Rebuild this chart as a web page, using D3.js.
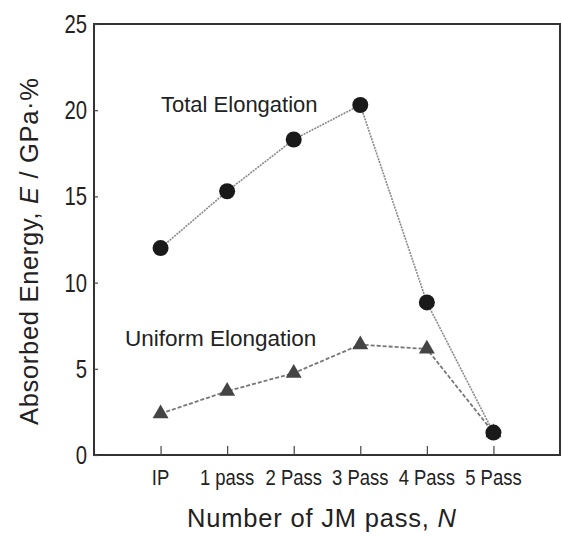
<!DOCTYPE html>
<html>
<head>
<meta charset="utf-8">
<script src="https://cdn.jsdelivr.net/npm/d3@7"></script>
<style>
  body { margin: 0; background: #fff; }
  text { font-family: "Liberation Sans", Arial, sans-serif; fill: #222; }
</style>
</head>
<body>
<div id="chart"></div>
<script>
// data
const passes = ["IP", "1 pass", "2 Pass", "3 Pass", "4 Pass", "5 Pass"]
const totalElong = [12.0, 15.3, 18.3, 20.3, 8.85, 1.3]
const uniformElong = [2.4, 3.7, 4.75, 6.4, 6.15, 1.3]
const yTicks = [0, 5, 10, 15, 20, 25]

const width = 562
const height = 536
const margin = {top: 24, right: 2, bottom: 81, left: 94}

const svg = d3.select("#chart")
  .append("svg")
    .attr("width", width)
    .attr("height", height)

const x = d3.scalePoint()
  .domain(passes)
  .range([margin.left, width - margin.right])
  .padding(1)

const y = d3.scaleLinear()
  .domain([0, 25])
  .range([height - margin.bottom, margin.top])

// frame
svg.append("rect")
  .attr("x", margin.left)
  .attr("y", margin.top)
  .attr("width", width - margin.right - margin.left)
  .attr("height", height - margin.bottom - margin.top)
  .attr("fill", "none")
  .attr("stroke", "#333")
  .attr("stroke-width", 2)

// x axis, ticks pointing inward
const xAxis = svg.append("g")
  .attr("transform", `translate(0,${height - margin.bottom})`)
  .call(d3.axisTop(x).tickSize(9).tickFormat(""))
xAxis.select(".domain").remove()
xAxis.selectAll("line").attr("stroke", "#444").attr("stroke-width", 1.2)

svg.append("g")
  .selectAll("text")
  .data(passes)
  .join("text")
    .attr("transform", d => `translate(${x(d)},485) scale(0.84,1)`)
    .attr("text-anchor", "middle")
    .style("font-size", "22px")
    .text(d => d)

// y axis, ticks pointing inward
const yAxis = svg.append("g")
  .attr("transform", `translate(${margin.left},0)`)
  .call(d3.axisRight(y).tickValues(yTicks).tickSize(4).tickFormat(""))
yAxis.select(".domain").remove()
yAxis.selectAll("line").attr("stroke", "#444").attr("stroke-width", 1.2)

svg.append("g")
  .selectAll("text")
  .data(yTicks)
  .join("text")
    .attr("transform", d => `translate(87,${y(d) + 9}) scale(0.78,1)`)
    .attr("text-anchor", "end")
    .style("font-size", "26px")
    .text(d => d)

// lines
const line = d3.line()
  .x((d, i) => x(passes[i]))
  .y(d => y(d))

svg.append("path")
  .datum(totalElong)
  .attr("d", line)
  .attr("fill", "none")
  .attr("stroke", "#888")
  .attr("stroke-width", 1.6)
  .attr("stroke-dasharray", "2,1")

svg.append("path")
  .datum(uniformElong)
  .attr("d", line)
  .attr("fill", "none")
  .attr("stroke", "#777")
  .attr("stroke-width", 1.8)
  .attr("stroke-dasharray", "4,2")

// markers
svg.append("g")
  .selectAll("path")
  .data(uniformElong)
  .join("path")
    .attr("transform", (d, i) => `translate(${x(passes[i])},${y(d)})`)
    .attr("d", d3.symbol(d3.symbolTriangle, 110))
    .attr("fill", "#444")

svg.append("g")
  .selectAll("circle")
  .data(totalElong)
  .join("circle")
    .attr("cx", (d, i) => x(passes[i]))
    .attr("cy", d => y(d))
    .attr("r", 8)
    .attr("fill", "#1a1a1a")

// series labels
svg.append("text")
  .attr("x", 161)
  .attr("y", 112)
  .style("font-size", "22px")
  .text("Total Elongation")

svg.append("text")
  .attr("x", 125)
  .attr("y", 346)
  .style("font-size", "22.5px")
  .text("Uniform Elongation")

// axis titles
const xTitle = svg.append("text")
  .attr("x", 321.5)
  .attr("y", 527)
  .attr("text-anchor", "middle")
  .attr("textLength", 269)
  .attr("lengthAdjust", "spacing")
  .style("font-size", "25.5px")
xTitle.append("tspan").text("Number of JM pass, ")
xTitle.append("tspan").style("font-style", "italic").text("N")

const yTitle = svg.append("text")
  .attr("transform", "translate(38,251.5) rotate(-90)")
  .attr("text-anchor", "middle")
  .attr("textLength", 347)
  .attr("lengthAdjust", "spacing")
  .style("font-size", "25.5px")
yTitle.append("tspan").text("Absorbed Energy, ")
yTitle.append("tspan").style("font-style", "italic").text("E")
yTitle.append("tspan").text(" / GPa\u00b7%")
</script>
</body>
</html>
